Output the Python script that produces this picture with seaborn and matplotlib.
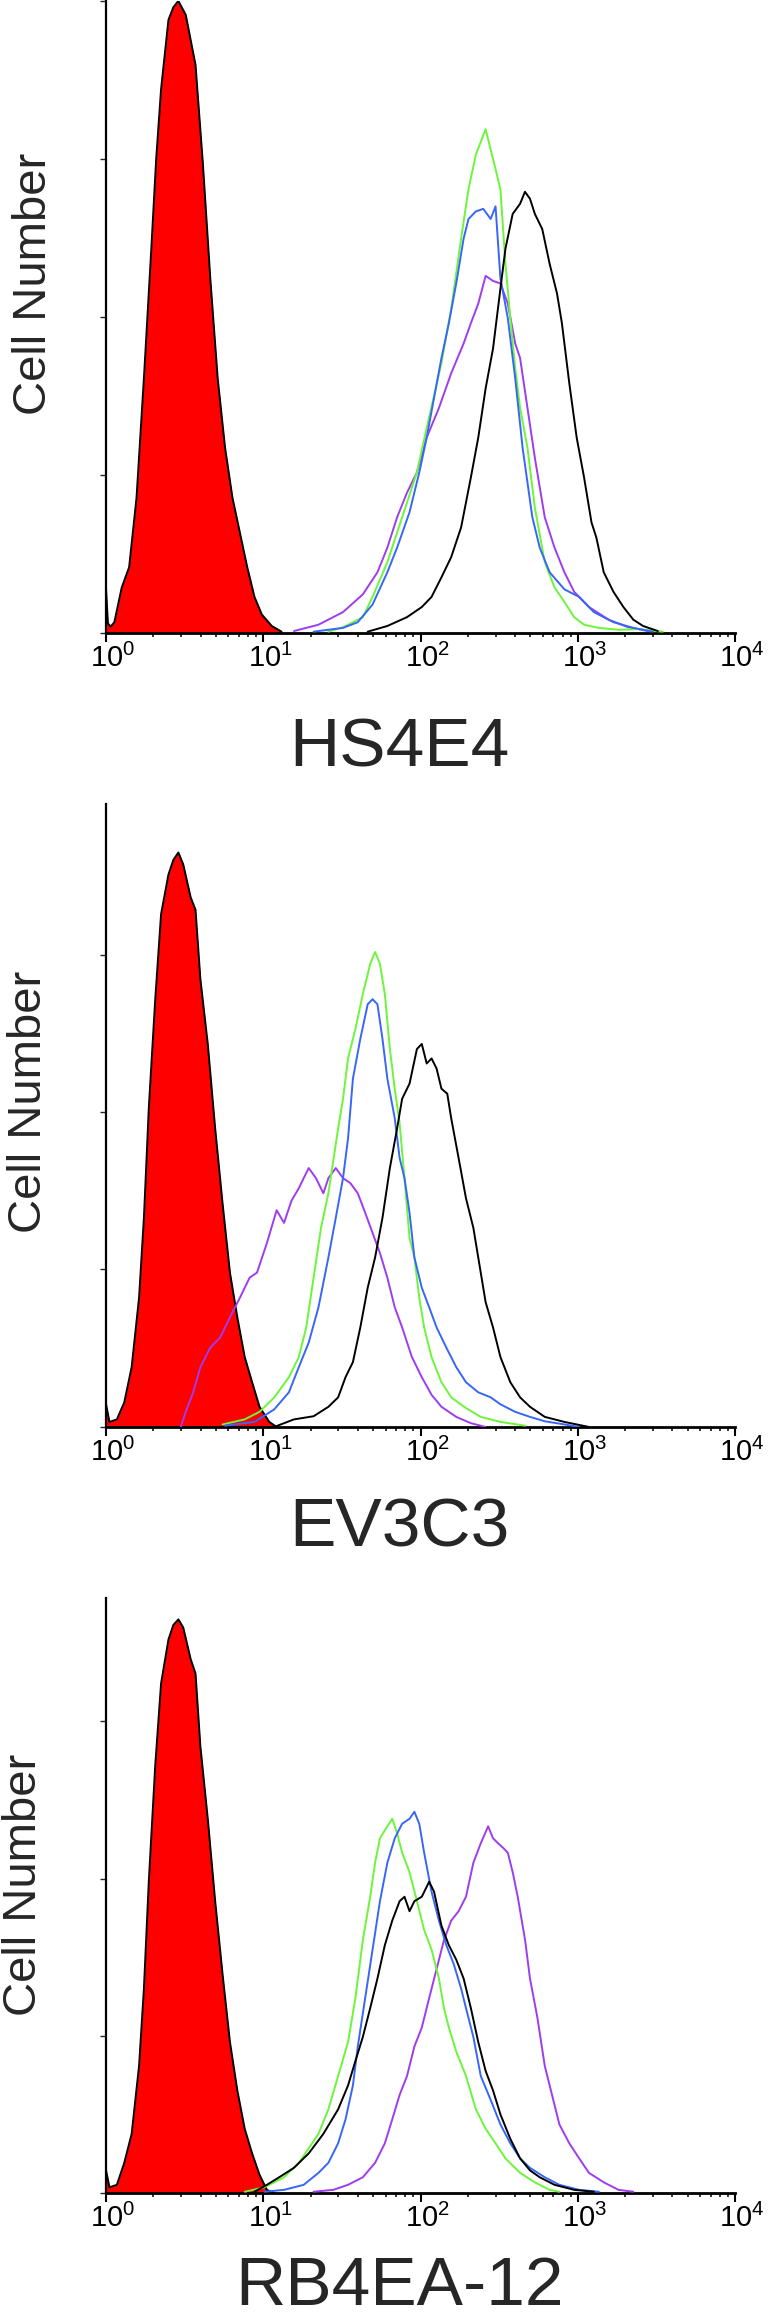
import numpy as np
import matplotlib
matplotlib.use("Agg")
import matplotlib.pyplot as plt
import matplotlib.transforms as mtransforms
from matplotlib.ticker import LogLocator, NullFormatter
import seaborn as sns

sns.set_style("ticks")
plt.rcParams['font.family'] = ['Liberation Sans', 'DejaVu Sans']
plt.rcParams['mathtext.fontset'] = 'custom'
plt.rcParams['mathtext.rm'] = 'Liberation Sans'
plt.rcParams['mathtext.default'] = 'regular'

# colores de las curvas
RED = '#FF0000'
GREEN = '#6CF53A'
BLUE = '#3766F8'
PURPLE = '#9E3CF0'
BLACK = '#000000'

TICK_LABELS = [r'$10^{0}$', r'$10^{1}$', r'$10^{2}$', r'$10^{3}$', r'$10^{4}$']
PANEL_NAMES = ['HS4E4', 'EV3C3', 'RB4EA-12']

# ---- HS4E4 (x = log10 de la fluorescencia, y = numero de celulas) ----
hs_red_log = [0.000, 0.012, 0.030, 0.053, 0.100, 0.147, 0.194, 0.241, 0.288, 0.319, 0.350, 0.397, 0.428,
              0.460, 0.507, 0.569, 0.616, 0.663, 0.710, 0.757, 0.804, 0.851, 0.898, 0.944, 0.991, 1.054, 1.116]
hs_red_cnt = [7.0, 1.5, 1.0, 1.7, 7.2, 10.4, 21.4, 40.3, 60.8, 75.0, 86.0, 97.0, 99.0,
              100.0, 97.8, 89.9, 74.2, 56.1, 40.3, 29.3, 21.4, 15.9, 10.4, 5.7, 2.9, 1.1, 0.2]
hs_green_log = [1.414, 1.507, 1.633, 1.695, 1.789, 1.883, 1.977, 2.039, 2.133, 2.195, 2.258, 2.305, 2.352,
                2.414, 2.446, 2.477, 2.508, 2.540, 2.571, 2.602, 2.633, 2.680, 2.727, 2.790, 2.852, 2.915,
                2.977, 3.040, 3.134, 3.259, 3.384, 3.540]
hs_green_cnt = [0.2, 0.9, 2.5, 5.7, 11.2, 18.3, 25.4, 32.4, 42.7, 51.3, 62.4, 70.2, 75.7,
                79.7, 76.5, 73.4, 70.2, 58.4, 49.8, 41.9, 35.6, 29.3, 19.8, 11.2, 7.2, 4.9,
                2.5, 1.3, 0.8, 0.5, 0.6, 0.2]
hs_blue_log = [1.320, 1.507, 1.601, 1.695, 1.789, 1.851, 1.930, 1.992, 2.039, 2.086, 2.133, 2.180, 2.227,
               2.274, 2.305, 2.352, 2.399, 2.446, 2.477, 2.508, 2.555, 2.602, 2.649, 2.711, 2.758, 2.821,
               2.915, 3.009, 3.102, 3.227, 3.353, 3.478]
hs_blue_cnt = [0.2, 0.8, 1.7, 4.5, 9.6, 13.5, 19.1, 25.4, 30.9, 37.2, 43.5, 49.0, 55.3,
               62.4, 65.5, 66.7, 67.1, 65.5, 67.5, 56.1, 49.8, 40.3, 29.3, 18.3, 13.5, 9.6,
               6.9, 5.7, 3.3, 1.7, 0.8, 0.2]
hs_purple_log = [1.195, 1.351, 1.507, 1.633, 1.726, 1.789, 1.851, 1.914, 1.977, 2.039, 2.117, 2.195, 2.274,
                 2.320, 2.367, 2.414, 2.461, 2.508, 2.555, 2.602, 2.633, 2.680, 2.727, 2.790, 2.852, 2.915,
                 2.977, 3.071, 3.196, 3.321, 3.446]
hs_purple_cnt = [0.3, 1.3, 3.3, 6.1, 9.6, 13.5, 18.3, 22.2, 25.4, 30.9, 35.6, 41.1, 45.8,
                 49.0, 52.1, 56.5, 55.7, 55.3, 52.1, 45.8, 43.5, 35.6, 27.7, 18.3, 13.5, 9.6,
                 6.5, 4.1, 2.1, 0.9, 0.3]
hs_black_log = [1.664, 1.789, 1.914, 2.008, 2.070, 2.133, 2.195, 2.258, 2.320, 2.367, 2.414, 2.461, 2.508,
                2.540, 2.586, 2.633, 2.664, 2.696, 2.727, 2.774, 2.821, 2.868, 2.899, 2.946, 2.993, 3.040,
                3.087, 3.118, 3.165, 3.227, 3.290, 3.353, 3.415, 3.509]
hs_black_cnt = [0.2, 1.1, 2.5, 4.1, 5.7, 8.8, 12.0, 16.7, 24.6, 30.9, 38.7, 45.0, 54.5,
                60.8, 66.3, 67.9, 69.8, 68.7, 66.3, 63.9, 58.4, 53.7, 49.0, 39.5, 30.9, 24.6,
                17.5, 15.1, 9.6, 6.5, 4.1, 2.1, 1.1, 0.3]

# ---- EV3C3 ----
ev_red_log = [0.000, 0.022, 0.069, 0.116, 0.163, 0.210, 0.241, 0.272, 0.313, 0.350, 0.397, 0.428, 0.460,
              0.491, 0.538, 0.569, 0.600, 0.647, 0.694, 0.741, 0.788, 0.835, 0.882, 0.929, 0.976, 1.038, 1.085]
ev_red_cnt = [3.6, 0.8, 1.2, 3.9, 9.5, 20.5, 33.2, 50.6, 67.9, 81.4, 87.7, 90.0, 91.2,
              89.3, 84.1, 82.1, 71.1, 60.8, 47.4, 35.5, 24.5, 17.4, 11.1, 7.1, 3.2, 0.8, 0.0]
ev_green_log = [0.741, 0.882, 0.976, 1.070, 1.163, 1.226, 1.273, 1.320, 1.367, 1.414, 1.476, 1.507, 1.539,
                1.586, 1.633, 1.680, 1.711, 1.742, 1.773, 1.805, 1.836, 1.867, 1.898, 1.930, 1.961, 1.992,
                2.023, 2.070, 2.133, 2.195, 2.289, 2.383, 2.508, 2.665]
ev_green_cnt = [0.4, 1.2, 2.4, 4.7, 7.9, 11.1, 15.8, 23.7, 31.6, 37.1, 47.4, 52.1, 58.5,
                63.2, 68.7, 73.5, 75.4, 73.5, 68.7, 60.0, 53.7, 48.2, 39.5, 30.0, 26.9, 20.5,
                15.8, 11.1, 7.1, 4.7, 3.0, 1.6, 0.8, 0.2]
ev_blue_log = [0.757, 0.944, 1.070, 1.163, 1.226, 1.289, 1.351, 1.414, 1.461, 1.507, 1.539, 1.570, 1.617,
               1.664, 1.695, 1.726, 1.758, 1.789, 1.836, 1.867, 1.898, 1.930, 1.961, 2.008, 2.055, 2.102,
               2.164, 2.227, 2.289, 2.367, 2.446, 2.508, 2.602, 2.696, 2.790, 2.915, 3.009]
ev_blue_cnt = [0.2, 0.8, 2.8, 5.5, 9.5, 13.4, 19.0, 26.9, 33.2, 39.5, 45.8, 55.3, 61.6,
               67.1, 67.9, 67.1, 61.6, 55.3, 49.0, 42.7, 39.5, 34.0, 26.9, 22.1, 19.0, 15.8,
               12.6, 9.5, 7.1, 5.5, 4.7, 3.6, 2.4, 1.6, 0.9, 0.4, 0.0]
ev_purple_log = [0.475, 0.507, 0.554, 0.600, 0.663, 0.726, 0.788, 0.851, 0.913, 0.960, 1.023, 1.085, 1.132,
                 1.179, 1.226, 1.257, 1.289, 1.335, 1.382, 1.414, 1.461, 1.507, 1.554, 1.601, 1.648, 1.695,
                 1.742, 1.789, 1.836, 1.883, 1.945, 2.008, 2.070, 2.133, 2.227, 2.320, 2.414]
ev_purple_cnt = [0.0, 2.4, 5.5, 9.5, 12.6, 14.2, 17.4, 20.5, 23.7, 24.5, 29.2, 34.4, 32.4,
                 35.9, 37.9, 39.5, 41.1, 39.5, 37.1, 39.5, 41.1, 39.5, 38.7, 37.1, 34.0, 30.8,
                 27.6, 23.7, 19.0, 15.8, 11.1, 7.9, 5.1, 3.2, 1.6, 0.6, 0.0]
ev_black_log = [1.070, 1.195, 1.320, 1.414, 1.476, 1.523, 1.570, 1.617, 1.664, 1.711, 1.758, 1.805, 1.851,
                1.883, 1.930, 1.977, 2.008, 2.039, 2.070, 2.102, 2.133, 2.170, 2.195, 2.242, 2.289, 2.336,
                2.367, 2.414, 2.461, 2.508, 2.571, 2.633, 2.696, 2.790, 2.915, 3.071]
ev_black_cnt = [0.0, 1.2, 1.7, 3.2, 4.7, 7.9, 10.3, 15.8, 22.1, 26.9, 33.2, 41.1, 47.4,
                52.1, 54.5, 60.0, 60.8, 57.7, 58.5, 56.9, 53.7, 52.9, 49.0, 42.7, 36.3, 31.6,
                26.9, 19.8, 15.8, 11.1, 7.1, 4.7, 3.2, 1.6, 0.8, 0.0]

# ---- RB4EA-12 ----
rb_red_log = [0.000, 0.022, 0.069, 0.116, 0.163, 0.210, 0.241, 0.272, 0.313, 0.350, 0.397, 0.428, 0.460,
              0.491, 0.538, 0.569, 0.600, 0.647, 0.694, 0.741, 0.788, 0.835, 0.882, 0.929, 0.976, 1.023, 1.070]
rb_red_cnt = [3.6, 0.9, 1.3, 4.8, 9.4, 20.2, 32.5, 49.5, 68.0, 81.0, 88.0, 90.3, 91.2,
              89.9, 84.9, 82.6, 71.0, 59.5, 46.4, 34.8, 24.0, 16.3, 10.2, 6.3, 2.9, 0.5, 0.0]
rb_green_log = [0.882, 1.007, 1.132, 1.226, 1.289, 1.351, 1.414, 1.476, 1.539, 1.586, 1.633, 1.680, 1.711,
                1.742, 1.789, 1.820, 1.851, 1.883, 1.930, 1.977, 2.023, 2.070, 2.117, 2.149, 2.180, 2.227,
                2.289, 2.352, 2.414, 2.477, 2.540, 2.633, 2.727, 2.821, 2.883]
rb_green_cnt = [0.2, 0.9, 2.5, 4.8, 7.1, 9.4, 13.3, 18.6, 24.0, 31.0, 40.2, 47.1, 52.5,
                56.4, 58.3, 59.5, 57.2, 54.1, 51.0, 46.4, 41.8, 38.7, 34.1, 29.4, 26.3, 22.5,
                18.6, 13.3, 10.2, 7.9, 5.5, 3.2, 1.7, 0.5, 0.2]
rb_blue_log = [1.007, 1.132, 1.257, 1.351, 1.414, 1.476, 1.523, 1.570, 1.601, 1.648, 1.695, 1.742, 1.789,
               1.836, 1.883, 1.930, 1.961, 1.992, 2.023, 2.070, 2.117, 2.164, 2.211, 2.258, 2.289, 2.336,
               2.383, 2.446, 2.508, 2.571, 2.633, 2.696, 2.790, 2.883, 3.009, 3.134]
rb_blue_cnt = [0.2, 0.5, 1.3, 3.2, 4.8, 7.9, 11.7, 17.1, 23.3, 31.0, 38.7, 46.4, 52.5,
               56.4, 58.7, 59.5, 60.6, 58.7, 54.1, 47.9, 43.3, 39.4, 36.4, 32.5, 29.4, 24.8,
               18.6, 14.8, 10.9, 7.9, 5.5, 4.0, 2.5, 1.3, 0.5, 0.2]
rb_purple_log = [1.320, 1.445, 1.539, 1.633, 1.711, 1.773, 1.820, 1.867, 1.914, 1.961, 2.008, 2.055, 2.102,
                 2.149, 2.195, 2.242, 2.289, 2.336, 2.383, 2.430, 2.461, 2.493, 2.524, 2.555, 2.586, 2.618,
                 2.665, 2.696, 2.743, 2.790, 2.836, 2.883, 2.946, 3.009, 3.071, 3.165, 3.259, 3.353]
rb_purple_cnt = [0.2, 0.5, 1.3, 2.5, 4.8, 7.9, 11.7, 15.6, 18.6, 23.3, 26.3, 31.0, 35.6,
                 40.2, 43.3, 44.8, 47.1, 52.5, 55.6, 58.3, 56.4, 55.6, 54.9, 54.1, 51.0, 47.1,
                 40.2, 34.1, 27.9, 20.2, 15.6, 10.9, 7.9, 5.5, 3.2, 1.7, 0.5, 0.2]
rb_black_log = [0.944, 1.023, 1.101, 1.195, 1.289, 1.382, 1.476, 1.539, 1.586, 1.633, 1.680, 1.726, 1.773,
                1.820, 1.867, 1.898, 1.930, 1.961, 2.008, 2.055, 2.086, 2.133, 2.180, 2.227, 2.274, 2.320,
                2.367, 2.414, 2.461, 2.508, 2.571, 2.633, 2.696, 2.758, 2.852, 2.977, 3.102]
rb_black_cnt = [0.2, 1.3, 2.5, 4.0, 6.3, 9.4, 13.3, 17.1, 21.0, 24.8, 29.4, 34.1, 39.4,
                43.3, 46.4, 47.1, 44.8, 46.4, 47.1, 49.5, 47.9, 42.5, 39.4, 37.1, 34.1, 29.4,
                24.0, 19.4, 16.3, 12.5, 8.6, 5.5, 3.6, 2.5, 1.3, 0.5, 0.2]

paneles = [
    {'red': (hs_red_log, hs_red_cnt),
     'lines': [(hs_purple_log, hs_purple_cnt, PURPLE), (hs_green_log, hs_green_cnt, GREEN),
               (hs_blue_log, hs_blue_cnt, BLUE), (hs_black_log, hs_black_cnt, BLACK)]},
    {'red': (ev_red_log, ev_red_cnt),
     'lines': [(ev_purple_log, ev_purple_cnt, PURPLE), (ev_green_log, ev_green_cnt, GREEN),
               (ev_blue_log, ev_blue_cnt, BLUE), (ev_black_log, ev_black_cnt, BLACK)]},
    {'red': (rb_red_log, rb_red_cnt),
     'lines': [(rb_purple_log, rb_purple_cnt, PURPLE), (rb_green_log, rb_green_cnt, GREEN),
               (rb_blue_log, rb_blue_cnt, BLUE), (rb_black_log, rb_black_cnt, BLACK)]},
]

# posicion de cada panel (fraccion de figura) y ajustes de texto
layout = [
    dict(rect=[0.1377, 0.7273, 0.8169, 0.2723], top=100, yticks=[0, 25, 50, 75, 100],
         ylab=(-0.0795, 0.552), xlab=(0.467, -0.212), xva='baseline'),
    dict(rect=[0.1377, 0.3852, 0.8169, 0.2714], top=98.9, yticks=[0, 25, 50, 75],
         ylab=(-0.087, 0.516), xlab=(0.467, -0.189), xva='baseline'),
    dict(rect=[0.1377, 0.05515, 0.8169, 0.2710], top=94.6, yticks=[0, 25, 50, 75],
         ylab=(-0.095, 0.49), xlab=(0.467, -0.2), xva='bottom'),
]

fig = plt.figure(figsize=(7.7, 23.21), dpi=100)

for panel, lay, name in zip(paneles, layout, PANEL_NAMES):
    ax = fig.add_axes(lay['rect'])
    ax.set_xscale('log')

    rx = 10 ** np.array(panel['red'][0])
    ry = np.array(panel['red'][1])
    ax.fill_between(rx, ry, 0, color=RED, linewidth=0, zorder=1)
    sns.lineplot(x=rx, y=ry, ax=ax, color=BLACK, lw=1.4, estimator=None, sort=False, zorder=2)

    for lx, ly, col in panel['lines']:
        sns.lineplot(x=10 ** np.array(lx), y=ly, ax=ax, color=col, lw=1.4,
                     estimator=None, sort=False, zorder=3)

    ax.set_xlim(1, 10000)
    ax.set_ylim(0, 100)
    ax.set_xticks([1, 10, 100, 1000, 10000])
    ax.set_xticklabels(TICK_LABELS, fontsize=21)
    ax.xaxis.set_minor_locator(LogLocator(base=10, subs=range(2, 10)))
    ax.xaxis.set_minor_formatter(NullFormatter())
    ax.set_yticks(lay['yticks'])
    ax.set_yticklabels([])

    ax.tick_params(axis='x', which='major', direction='out', length=6.5, width=1.5, pad=1, colors='black')
    ax.tick_params(axis='x', which='minor', direction='out', length=3, width=1.3)
    ax.tick_params(axis='y', direction='out', length=4.5, width=1.0)

    offset = mtransforms.ScaledTranslation(7 / 100, 0, fig.dpi_scale_trans)
    for lbl in ax.get_xticklabels():
        lbl.set_transform(lbl.get_transform() + offset)

    sns.despine(ax=ax)
    ax.spines['bottom'].set_linewidth(2.0)
    ax.spines['left'].set_linewidth(1.6)
    ax.spines['bottom'].set_color('black')
    ax.spines['left'].set_color('black')
    ax.spines['left'].set_bounds(0, lay['top'])

    ax.set_ylabel('Cell Number', fontsize=34)
    ax.yaxis.set_label_coords(*lay['ylab'])
    ax.set_xlabel(name, fontsize=50)
    ax.xaxis.set_label_coords(*lay['xlab'])
    ax.xaxis.label.set_verticalalignment(lay['xva'])

fig.savefig('out.png', dpi=100)
